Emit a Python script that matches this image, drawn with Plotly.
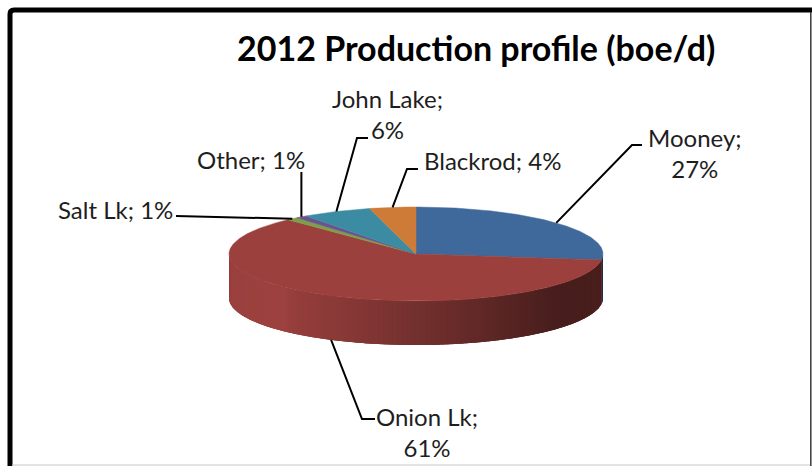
import numpy as np
import plotly.graph_objects as go

# 2012 production split by area (percent of boe/d)
areas = ["Mooney", "Onion Lk", "Salt Lk", "Other", "John Lake", "Blackrod"]
shares = [27, 61, 1, 1, 6, 4]
title_text = "2012 Production profile (boe/d)"

# Office-style palette: base RGB per slice and lit top-face colours
base_rgb = [(79, 129, 189), (192, 80, 77), (155, 187, 89),
            (128, 100, 162), (75, 172, 198), (247, 150, 70)]
top_colors = ["#40699B", "#9C403D", "#7E9F48", "#6A5290", "#3B8CA2", "#CF7B38"]

# Pie geometry in page pixels (y grows downward)
CX, CY = 416.0, 254.0
RX, RY = 187.0, 47.0
DEPTH = 44.0

FONT = "Lato, Carlito, Calibri, sans-serif"

# Label placement: text centre, elbow of the leader, end of the leader
label_pos = {
    "Mooney":    dict(tx=695, ty=153, elbow=(632, 145), end=(642, 145), two=True),
    "Onion Lk":  dict(tx=427, ty=432, elbow=(362, 419), end=(375, 419), two=True),
    "Salt Lk":   dict(tx=115, ty=209, elbow=None, end=(176, 216), two=False),
    "Other":     dict(tx=251, ty=159, elbow=None, end=None, two=False),
    "John Lake": dict(tx=387, ty=114, elbow=(357, 138), end=(368, 138), two=True),
    "Blackrod":  dict(tx=492, ty=160, elbow=(407, 169), end=(418, 169), two=False),
}


def rim(theta_deg, drop=0.0):
    t = np.radians(theta_deg)
    return CX + RX * np.cos(t), CY - RY * np.sin(t) + drop


def shade(t):
    # horizontal lighting across the visible side wall
    return np.interp(t, [0.0, 0.15, 0.17, 0.40, 0.65, 0.88, 1.0],
                     [0.80, 0.82, 0.78, 0.66, 0.52, 0.37, 0.38])


def wall(a, b):
    th = np.linspace(a, b, max(6, int(abs(b - a) * 2)))
    xt, yt = rim(th)
    xb, yb = rim(th[::-1], DEPTH)
    return np.concatenate([xt, xb, xt[:1]]), np.concatenate([yt, yb, yt[:1]])


fig = go.Figure()

# slice angle ranges, clockwise from 12 o'clock
total = float(sum(shares))
starts, ends = [], []
acc = 0.0
for s in shares:
    a0 = 90.0 - 360.0 * acc / total
    a1 = a0 - 360.0 * s / total
    starts.append(a0)
    ends.append(a1)
    acc += s

# side wall: only the front half (-180..0 degrees) is visible
for i in range(len(shares)):
    lo, hi = max(ends[i], -180.0), min(starts[i], 0.0)
    if hi <= lo:
        continue
    # backing piece in a mid tone so strip joins never show the page through
    xm, _ = rim((lo + hi) / 2)
    f = shade((xm - (CX - RX)) / (2 * RX))
    col = "rgb({},{},{})".format(*(int(round(c * f)) for c in base_rgb[i]))
    wx, wy = wall(lo, hi)
    fig.add_trace(go.Scatter(x=wx, y=wy, mode="lines", fill="toself",
                             fillcolor=col, line=dict(width=0), hoverinfo="skip"))
    n = max(1, int(np.ceil((hi - lo) / 1.5)))
    edges = np.linspace(lo, hi, n + 1)
    step = (hi - lo) / n
    for a, b in zip(edges[:-1], edges[1:]):
        a2, b2 = max(lo, a - 0.45 * step), min(hi, b + 0.45 * step)
        xm, _ = rim((a + b) / 2)
        f = shade((xm - (CX - RX)) / (2 * RX))
        col = "rgb({},{},{})".format(*(int(round(c * f)) for c in base_rgb[i]))
        wx, wy = wall(a2, b2)
        fig.add_trace(go.Scatter(x=wx, y=wy, mode="lines", fill="toself",
                                 fillcolor=col, line=dict(width=0),
                                 hoverinfo="skip"))

# top face
for i in range(len(shares)):
    th = np.linspace(starts[i], ends[i], max(4, int(abs(starts[i] - ends[i]) * 2)))
    xa, ya = rim(th)
    fig.add_trace(go.Scatter(
        x=np.concatenate([[CX], xa, [CX]]),
        y=np.concatenate([[CY], ya, [CY]]),
        mode="lines", fill="toself", fillcolor=top_colors[i],
        line=dict(color=top_colors[i], width=0.5),
        name=areas[i], hoverinfo="name"))

# leader lines and labels
for i, name in enumerate(areas):
    mid = (starts[i] + ends[i]) / 2
    lp = label_pos[name]
    if name == "Onion Lk":
        ax, ay = rim(mid, DEPTH)
    else:
        ax, ay = rim(mid)
    xs, ys = [ax], [ay]
    if lp["elbow"] is not None:
        xs.append(lp["elbow"][0]); ys.append(lp["elbow"][1])
    if lp["end"] is not None:
        xs.append(lp["end"][0]); ys.append(lp["end"][1])
    else:
        xs.append(ax); ys.append(lp["ty"] + 13)
    fig.add_trace(go.Scatter(x=xs, y=ys, mode="lines",
                             line=dict(color="black", width=2), hoverinfo="skip"))
    sep = "<br>" if lp["two"] else " "
    fig.add_annotation(x=lp["tx"], y=lp["ty"], xref="x", yref="y",
                       text=f"{name};{sep}{shares[i]}%", showarrow=False,
                       xanchor="center", yanchor="middle", align="center",
                       font=dict(family=FONT, size=24, color="#1E1E1E"))

fig.add_annotation(x=476, y=47, xref="x", yref="y", text=f"<b>{title_text}</b>",
                   showarrow=False, xanchor="center", yanchor="middle",
                   font=dict(family=FONT, size=34, color="black"))

# chart frame: heavy top/left edge, thin right/bottom edge
fig.add_shape(type="path", xref="x", yref="y",
              path="M 10 466 L 10 14 Q 10 10 14 10 L 812 10",
              line=dict(color="black", width=5))
fig.add_shape(type="line", xref="x", yref="y", x0=810.8, y0=12, x1=810.8, y1=466,
              line=dict(color="#3A3A3A", width=1.5))
fig.add_shape(type="line", xref="x", yref="y", x0=12, y0=465, x1=810, y1=465,
              line=dict(color="#C8C8C8", width=1.2))

fig.update_layout(
    width=812, height=466, autosize=False,
    margin=dict(l=0, r=0, t=0, b=0, pad=0),
    paper_bgcolor="white", plot_bgcolor="white",
    showlegend=False,
    xaxis=dict(range=[0, 812], visible=False, fixedrange=True),
    yaxis=dict(range=[466, 0], visible=False, fixedrange=True),
)

fig.write_html("out.html", config={"displayModeBar": False})
